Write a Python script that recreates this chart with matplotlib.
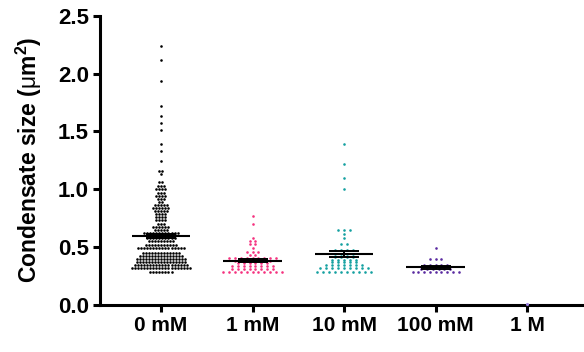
import numpy as np
import matplotlib
matplotlib.use('Agg')
import matplotlib.pyplot as plt

plt.rcParams['font.family'] = ['Liberation Sans', 'DejaVu Sans']
plt.rcParams['mathtext.fontset'] = 'custom'
plt.rcParams['mathtext.rm'] = 'Liberation Sans'
plt.rcParams['mathtext.bf'] = 'Liberation Sans:bold'

groups = ['0 mM', '1 mM', '10 mM', '100 mM', '1 M']
colors = ['#000000', '#F5317F', '#14A0A0', '#5A2AA0', '#9A7FE0']

# each group: row values (um^2) and number of dots in that row
vals_0mM = [0.281, 0.322, 0.348, 0.374, 0.400, 0.426, 0.452, 0.492, 0.522, 0.550,
            0.576, 0.602, 0.626, 0.646, 0.674, 0.704, 0.732, 0.761, 0.790, 0.813,
            0.842, 0.862, 0.886, 0.914, 0.943, 0.972, 1.001, 1.029, 1.059, 1.128,
            1.154, 1.243, 1.332, 1.393, 1.514, 1.572, 1.635, 1.721, 1.932, 2.113, 2.234]
counts_0mM = [8, 20, 18, 17, 17, 15, 13, 16, 11, 9,
              10, 10, 12, 5, 6, 3, 4, 4, 4, 5,
              6, 5, 2, 3, 4, 3, 4, 3, 2, 1,
              2, 1, 1, 1, 1, 1, 1, 1, 1, 1, 1]

vals_1mM = [0.282, 0.312, 0.340, 0.360, 0.380, 0.403, 0.432, 0.461, 0.496, 0.524,
            0.553, 0.582, 0.704, 0.767]
counts_1mM = [11, 8, 8, 6, 7, 9, 2, 3, 1, 2, 2, 1, 1, 1]

vals_10mM = [0.282, 0.316, 0.342, 0.368, 0.392, 0.414, 0.444, 0.472, 0.524, 0.579,
             0.611, 0.646, 1.001, 1.094, 1.215, 1.391]
counts_10mM = [10, 9, 7, 5, 5, 4, 4, 4, 2, 1, 1, 3, 1, 1, 1, 1]

vals_100mM = [0.282, 0.314, 0.342, 0.400, 0.492]
counts_100mM = [9, 6, 5, 3, 1]

vals_1M = [0.012]
counts_1M = [1]

rows = [(vals_0mM, counts_0mM), (vals_1mM, counts_1mM), (vals_10mM, counts_10mM),
        (vals_100mM, counts_100mM), (vals_1M, counts_1M)]
spacing = [0.033, 0.064, 0.065, 0.063, 0.06]

fig = plt.figure(figsize=(5.84, 3.52), dpi=100)
ax = fig.add_axes([0.171, 0.1335, 0.829, 0.822])

for i, (vals, counts) in enumerate(rows):
    xs, ys = [], []
    for v, n in zip(vals, counts):
        off = (np.arange(n) - (n - 1) / 2) * spacing[i]
        xs.extend(i + off)
        ys.extend([v] * n)
    size = 3.5 if i < 4 else 5
    ax.scatter(xs, ys, s=size, color=colors[i], linewidths=0, zorder=2 if i < 4 else 5,
               clip_on=False)
    data = np.repeat(vals, counts)
    if len(data) > 1:
        m = data.mean()
        sem = data.std(ddof=1) / np.sqrt(len(data))
        ax.hlines(m, i - 0.32, i + 0.32, color='black', lw=1.5, zorder=3)
        ax.errorbar(i, m, yerr=sem, color='black', lw=1.4, capsize=11, capthick=1.4, zorder=3)

ax.set_xlim(-0.667, 4.62)
ax.set_ylim(0, 2.5)
ticks = np.arange(0, 2.51, 0.5)
ax.set_yticks(ticks)
ax.set_yticklabels([f'{t:.1f}' for t in ticks], fontsize=16, fontweight='bold')
ax.set_xticks(range(len(groups)))
ax.set_xticklabels(groups, fontsize=15, fontweight='bold')
ax.set_ylabel(r'Condensate size ($\mathrm{\mu}$m$^\mathbf{2}$)', fontsize=16.5, fontweight='bold',
              labelpad=10)

for s in ['top', 'right']:
    ax.spines[s].set_visible(False)
for s in ['left', 'bottom']:
    ax.spines[s].set_linewidth(2.2)
ax.tick_params(width=2.2, length=5, pad=3)

fig.savefig('out.png', dpi=100)
